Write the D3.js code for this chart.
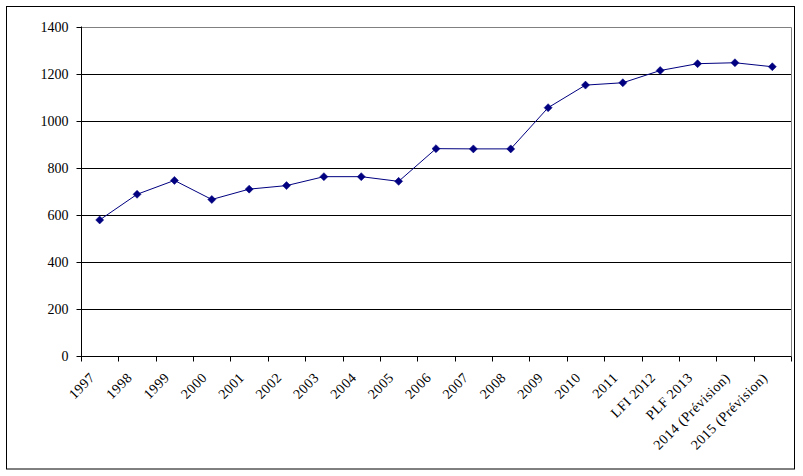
<!DOCTYPE html>
<html>
<head>
<meta charset="utf-8">
<script src="https://cdn.jsdelivr.net/npm/d3@7"></script>
<style>
  html, body { margin: 0; padding: 0; background: #fff; }
  svg { display: block; }
  text { font-family: "Liberation Serif", "Times New Roman", serif; font-size: 14px; fill: #000; }
</style>
</head>
<body>
<svg id="chart" width="803" height="476"></svg>
<script>
const categories = ["1997","1998","1999","2000","2001","2002","2003","2004","2005","2006","2007","2008","2009","2010","2011","LFI 2012","PLF 2013","2014 (Prévision)","2015 (Prévision)"];
const values = [578, 687, 746, 665, 709, 724, 762, 762, 742, 881, 880, 880, 1055, 1151, 1161, 1213, 1242, 1246, 1229];
const yTicks = [0, 200, 400, 600, 800, 1000, 1200, 1400];

(function () {
const svg = d3.select("#chart");
const pL = 81, pR = 791, pT = 26.5, pB = 356;

// outer border
svg.append("rect").attr("x", 6.5).attr("y", 6.5).attr("width", 788).attr("height", 462.5)
  .attr("fill", "#fff").attr("stroke", "#000").attr("stroke-width", 1);

const x = d3.scaleBand().domain(categories).range([pL, pR]).paddingInner(0).paddingOuter(0);
const y = d3.scaleLinear().domain([0, 1400]).range([pB, pT]);

// gridlines
svg.append("g").selectAll("line").data(yTicks.filter(d => d > 0 && d < 1400)).join("line")
  .attr("x1", pL).attr("x2", pR)
  .attr("y1", d => Math.round(y(d)) + 0.5).attr("y2", d => Math.round(y(d)) + 0.5)
  .attr("stroke", "#000").attr("stroke-width", 1);

// plot area border (top & right gray)
svg.append("path")
  .attr("d", `M${pL},${Math.round(y(1400)) + 0.5}H${pR + 0.5}V${pB}`)
  .attr("fill", "none").attr("stroke", "#808080").attr("stroke-width", 1);

// y axis
const yAxis = d3.axisLeft(y).tickValues(yTicks).tickSize(5).tickPadding(8).tickFormat(d3.format("d"));
const gy = svg.append("g").attr("transform", `translate(${pL + 0.5},0)`).call(yAxis);
gy.select(".domain").attr("stroke", "#000").attr("d", `M0,${pT}V${pB + 0.5}`);
gy.selectAll(".tick line").attr("stroke", "#000");
gy.selectAll(".tick text").attr("font-size", 14).attr("fill", "#000").style("font-family", "'Liberation Serif', serif");
gy.selectAll(".tick").attr("transform", d => `translate(0,${Math.round(y(d)) + 0.5})`);

// x axis: ticks at band boundaries
const gx = svg.append("g").attr("transform", `translate(0,${pB + 0.5})`);
gx.append("line").attr("x1", pL).attr("x2", pR + 0.5).attr("y1", 0).attr("y2", 0).attr("stroke", "#000");
const bounds = categories.map(c => x(c)).concat([x(categories[categories.length - 1]) + x.bandwidth()]);
gx.selectAll("line.tk").data(bounds).join("line").attr("class", "tk")
  .attr("x1", d => Math.round(d) + 0.5).attr("x2", d => Math.round(d) + 0.5)
  .attr("y1", 0).attr("y2", 5).attr("stroke", "#000");
gx.selectAll("text").data(categories).join("text")
  .attr("transform", d => `translate(${x(d) + x.bandwidth() / 2 - 4},${22}) rotate(-45)`)
  .attr("text-anchor", "end")
  .attr("font-size", 15)
  .attr("letter-spacing", "0.5px")
  .text(d => d);

// line
const line = d3.line().x((d, i) => x(categories[i]) + x.bandwidth() / 2).y(d => y(d));
svg.append("path").datum(values).attr("d", line)
  .attr("fill", "none").attr("stroke", "#000080").attr("stroke-width", 1);

// markers (diamond = rotated square)
const sym = d3.symbol().type(d3.symbolSquare).size(32);
svg.append("g").selectAll("path").data(values).join("path")
  .attr("transform", (d, i) => `translate(${x(categories[i]) + x.bandwidth() / 2},${y(d)}) rotate(45)`)
  .attr("d", sym).attr("fill", "#000080").attr("stroke", "#000080").attr("stroke-width", 0.5);
})();
</script>
</body>
</html>
